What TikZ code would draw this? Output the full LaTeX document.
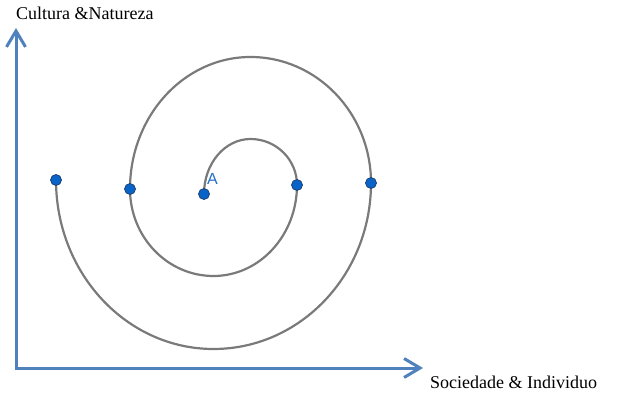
\documentclass[tikz,border=0pt]{standalone}
\usepackage{fontspec}
\setmainfont{Liberation Serif}
\newfontfamily\labelsans{Liberation Sans}
\usetikzlibrary{arrows.meta}
\definecolor{axisblue}{HTML}{4F81BD}
\definecolor{dotfill}{HTML}{0A64C8}
\definecolor{dotedge}{HTML}{1A3A6A}
\definecolor{spiralgray}{HTML}{7A7A7A}
\definecolor{labelblue}{HTML}{1E6EC8}
\tikzset{
  axisline/.style={draw=axisblue, line width=3pt, line join=miter,
    arrows={Straight Barb[length=16pt,width=19pt]-Straight Barb[length=16pt,width=19pt]}},
  spiral/.style={draw=spiralgray, line width=2.2pt},
  dot/.style={circle, fill=dotfill, draw=dotedge, line width=0.7pt, inner sep=0pt, minimum size=11pt},
  axistext/.style={font=\fontsize{18}{20}\selectfont, inner sep=0pt, anchor=base west},
}
\begin{document}
\begin{tikzpicture}[x=1pt,y=1pt]
\useasboundingbox (0,0) rectangle (629,407);
% axes
\coordinate (O) at (16,39);
\coordinate (ytip) at (16,379);
\coordinate (xtip) at (423,39);
\draw[axisline] (ytip) -- (O) -- (xtip);
\node[axistext] (ylab) at (16,387) {Cultura \&Natureza};
\node[axistext] (xlab) at (430,19) {Sociedade \& Individuo};
% spiral points
\coordinate (pA) at (204,213);
\coordinate (p2) at (297,222);
\coordinate (p3) at (130,218);
\coordinate (p4) at (371,224);
\coordinate (p5) at (56,227);
% spiral
\draw[spiral] (pA) arc[start angle=180,end angle=90,x radius=46.5,y radius=55]
  arc[start angle=90,end angle=0,x radius=46.5,y radius=46];
\draw[spiral] (p2) arc[start angle=0,end angle=-90,x radius=83.5,y radius=91]
  arc[start angle=-90,end angle=-180,x radius=83.5,y radius=87];
\draw[spiral] (p3) arc[start angle=180,end angle=90,x radius=120.5,y radius=132]
  arc[start angle=90,end angle=0,x radius=120.5,y radius=126];
\draw[spiral] (p4) arc[start angle=0,end angle=-90,x radius=157.5,y radius=166]
  arc[start angle=-90,end angle=-180,x radius=157.5,y radius=169];
% dots
\node[dot] (A) at (pA) {};
\node[dot] (B) at (p2) {};
\node[dot] (C) at (p3) {};
\node[dot] (D) at (p4) {};
\node[dot] (E) at (p5) {};
\node[font=\labelsans\fontsize{16}{18}\selectfont, text=labelblue, inner sep=0pt, anchor=base west] (Alab) at (207,222) {A};
\end{tikzpicture}
\end{document}
